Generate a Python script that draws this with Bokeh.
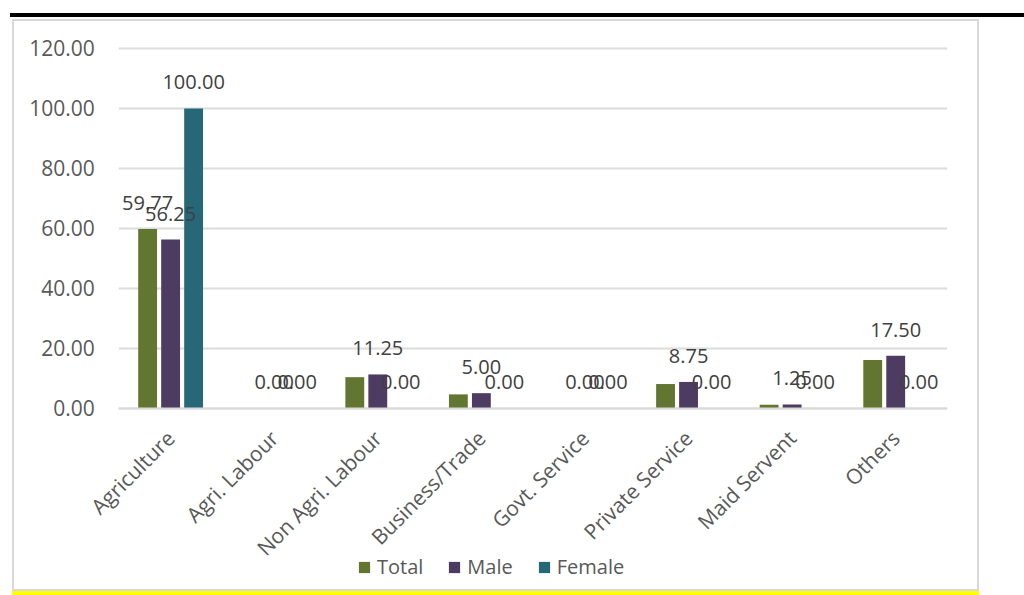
import numpy as np
from bokeh.plotting import figure
from bokeh.layouts import column
from bokeh.models import (ColumnDataSource, Range1d, Legend, LegendItem, BoxAnnotation,
                          NumeralTickFormatter, FixedTicker, Div)
from bokeh.transform import dodge
from bokeh.core.properties import value
from bokeh.embed import file_html
from bokeh.resources import INLINE

categories = ["Agriculture", "Agri. Labour", "Non Agri. Labour", "Business/Trade",
              "Govt. Service", "Private Service", "Maid Servent", "Others"]
total = [59.77, 0.00, 10.34, 4.60, 0.00, 8.05, 1.15, 16.09]
male = [56.25, 0.00, 11.25, 5.00, 0.00, 8.75, 1.25, 17.50]
female = [100.00, 0.00, 0.00, 0.00, 0.00, 0.00, 0.00, 0.00]
total_label_shown = [True, False, False, False, False, False, False, False]
male_label_shown = [True] * 8
female_label_shown = [True] * 8
series_names = ["Total", "Male", "Female"]
series_colors = ["#637631", "#4e3b62", "#266878"]
y_ticks = [0, 20, 40, 60, 80, 100, 120]

FONT = "Open Sans"

n = len(categories)
centers = [i + 0.5 for i in range(n)]

# frame extends left (tick labels), above 120 and below zero (category labels, legend)
# so that no text is clipped
p = figure(x_range=Range1d(-0.9685, n), y_range=Range1d(-60.5, 126.0),
           width=967, height=572, output_backend="svg", toolbar_location=None,
           min_border_left=4, min_border_right=34, min_border_top=9, min_border_bottom=4,
           background_fill_color="white", border_fill_color="white", outline_line_color=None,
           margin=(2, 0, 0, 12),
           styles={"border": "2px solid #d9d9d9", "box-sizing": "border-box",
                   "box-shadow": "0 5px 0 0 #ffff00"})

offsets = [-0.222, 0.0, 0.222]
bar_w = 0.182
renderers = []
for name, vals, color, off in zip(series_names, [total, male, female], series_colors, offsets):
    src = ColumnDataSource(dict(x=centers, cat=categories, val=vals))
    r = p.vbar(x=dodge("x", off), top="val", width=bar_w, bottom=0,
               source=src, fill_color=color, line_color=None)
    renderers.append(r)

for name, vals, shown, off in zip(series_names, [total, male, female],
                                  [total_label_shown, male_label_shown, female_label_shown],
                                  offsets):
    xs = [c for c, s in zip(centers, shown) if s]
    vs = [v for v, s in zip(vals, shown) if s]
    lsrc = ColumnDataSource(dict(x=xs, val=vs, label=[f"{v:.2f}" for v in vs]))
    p.text(x=dodge("x", off), y="val", text="label", source=lsrc,
           text_align="center", text_baseline="alphabetic", y_offset=-26,
           text_font=value(FONT), text_font_size="20px", text_color="#404040")

# axes
p.yaxis.fixed_location = 0
p.yaxis.ticker = FixedTicker(ticks=y_ticks)
p.yaxis.formatter = NumeralTickFormatter(format="0.00")
p.yaxis.axis_line_color = None
p.yaxis.major_tick_line_color = None
p.yaxis.minor_tick_line_color = None
p.yaxis.major_label_standoff = 18
p.yaxis.major_label_text_font = FONT
p.yaxis.major_label_text_font_size = "21px"
p.yaxis.major_label_text_color = "#595959"

p.xaxis.fixed_location = 0
p.xaxis.bounds = (0, n)
p.xaxis.ticker = FixedTicker(ticks=centers)
p.xaxis.major_label_overrides = {c: name for c, name in zip(centers, categories)}
p.xaxis.axis_line_color = "#d9d9d9"
p.xaxis.axis_line_width = 2
p.xaxis.major_tick_line_color = None
p.xaxis.minor_tick_line_color = None
p.xaxis.major_label_orientation = np.pi / 4
p.xaxis.major_label_standoff = 20
p.xaxis.major_label_text_font = FONT
p.xaxis.major_label_text_font_size = "21px"
p.xaxis.major_label_text_color = "#595959"

p.xgrid.grid_line_color = None
p.ygrid.grid_line_color = "#dcdcdc"
p.ygrid.grid_line_width = 2

# keep gridlines to the right of the value axis
p.add_layout(BoxAnnotation(right=0, fill_color="white", fill_alpha=1, line_color=None,
                           level="underlay"))

legend = Legend(items=[LegendItem(label=nm, renderers=[r]) for nm, r in zip(series_names, renderers)],
                orientation="horizontal", location=(339, 9),
                border_line_color=None, background_fill_alpha=0, padding=0, margin=0,
                spacing=24, glyph_width=14, glyph_height=14, label_standoff=6,
                label_text_font=FONT, label_text_font_size="20px", label_text_color="#595959")
p.add_layout(legend, "center")

top_rule = Div(width=1014, height=4, margin=(13, 0, 0, 10),
               styles={"background-color": "black"})

layout = column(top_rule, p, spacing=0)
open("out.html", "w").write(file_html(layout, INLINE))
